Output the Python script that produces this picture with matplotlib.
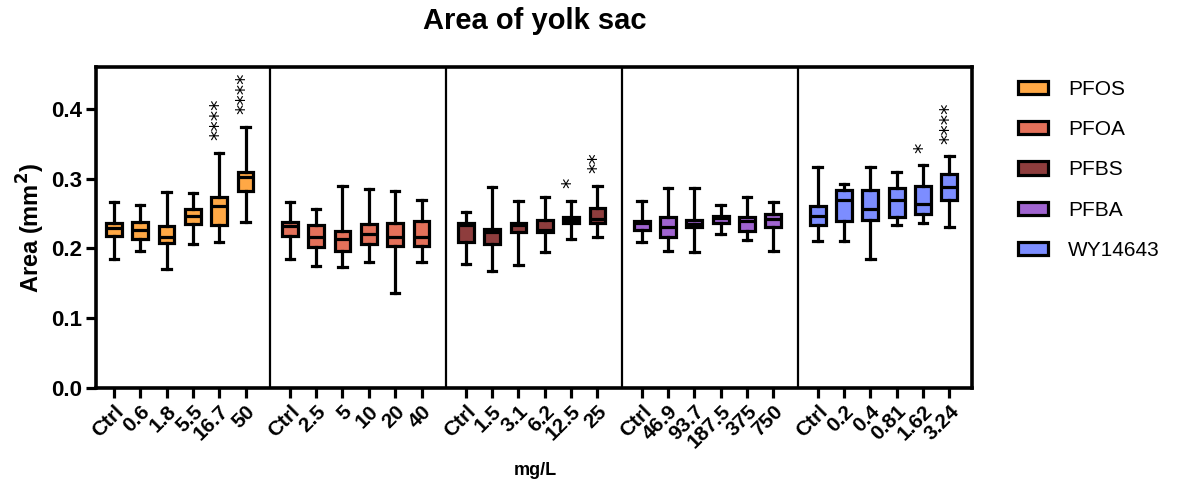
import matplotlib
matplotlib.use("Agg")
import matplotlib.pyplot as plt
from matplotlib.patches import Patch

plt.rcParams['font.family'] = ['Liberation Sans', 'DejaVu Sans']

# ---- data ----
compounds = ["PFOS", "PFOA", "PFBS", "PFBA", "WY14643"]
colors = ["#FFA845", "#E4715A", "#8E3D3D", "#A064D0", "#7C8DFF"]

doses_pfos = ["Ctrl", "0.6", "1.8", "5.5", "16.7", "50"]
doses_pfoa = ["Ctrl", "2.5", "5", "10", "20", "40"]
doses_pfbs = ["Ctrl", "1.5", "3.1", "6.2", "12.5", "25"]
doses_pfba = ["Ctrl", "46.9", "93.7", "187.5", "375", "750"]
doses_wy = ["Ctrl", "0.2", "0.4", "0.81", "1.62", "3.24"]

# each: whislo, q1, median, q3, whishi
pfos = [
    [0.185, 0.218, 0.229, 0.237, 0.266],
    [0.196, 0.214, 0.227, 0.238, 0.262],
    [0.171, 0.208, 0.216, 0.232, 0.281],
    [0.207, 0.235, 0.246, 0.256, 0.280],
    [0.209, 0.233, 0.261, 0.274, 0.337],
    [0.238, 0.282, 0.302, 0.310, 0.374],
]
pfoa = [
    [0.185, 0.218, 0.232, 0.238, 0.266],
    [0.175, 0.202, 0.216, 0.233, 0.257],
    [0.173, 0.196, 0.214, 0.225, 0.290],
    [0.181, 0.207, 0.221, 0.235, 0.285],
    [0.136, 0.204, 0.217, 0.237, 0.282],
    [0.181, 0.203, 0.217, 0.240, 0.269],
]
pfbs = [
    [0.177, 0.209, 0.233, 0.237, 0.252],
    [0.167, 0.207, 0.224, 0.228, 0.288],
    [0.176, 0.224, 0.233, 0.237, 0.268],
    [0.195, 0.223, 0.227, 0.241, 0.273],
    [0.214, 0.236, 0.241, 0.245, 0.268],
    [0.217, 0.236, 0.242, 0.258, 0.290],
]
pfba = [
    [0.209, 0.226, 0.236, 0.239, 0.268],
    [0.197, 0.216, 0.230, 0.245, 0.287],
    [0.195, 0.231, 0.235, 0.241, 0.286],
    [0.221, 0.237, 0.243, 0.247, 0.262],
    [0.212, 0.225, 0.240, 0.245, 0.274],
    [0.197, 0.231, 0.242, 0.250, 0.266],
]
wy = [
    [0.210, 0.233, 0.246, 0.261, 0.316],
    [0.211, 0.239, 0.270, 0.283, 0.293],
    [0.185, 0.241, 0.257, 0.283, 0.316],
    [0.234, 0.245, 0.269, 0.287, 0.309],
    [0.236, 0.250, 0.263, 0.290, 0.319],
    [0.231, 0.270, 0.288, 0.307, 0.332],
]
# significance marks per box
sig_pfos = ["", "", "", "", "****", "****"]
sig_pfoa = ["", "", "", "", "", ""]
sig_pfbs = ["", "", "", "", "*", "**"]
sig_pfba = ["", "", "", "", "", ""]
sig_wy = ["", "", "", "", "*", "****"]

groups = [pfos, pfoa, pfbs, pfba, wy]
doses = [doses_pfos, doses_pfoa, doses_pfbs, doses_pfba, doses_wy]
sigs = [sig_pfos, sig_pfoa, sig_pfbs, sig_pfba, sig_wy]

# ---- figure ----
fig = plt.figure(figsize=(11.82, 4.90), dpi=100)
ax = fig.add_axes([0.0812, 0.2082, 0.7411, 0.6551])

GAP = 6.68
lw = 2.3
positions, labels = [], []
for g, (grp, ds, sg) in enumerate(zip(groups, doses, sigs)):
    stats = []
    pos = []
    for i, (s, d) in enumerate(zip(grp, ds)):
        stats.append(dict(whislo=s[0], q1=s[1], med=s[2], q3=s[3], whishi=s[4], fliers=[]))
        pos.append(g * GAP + i)
    ax.bxp(stats, positions=pos, widths=0.6, capwidths=0.32, patch_artist=True,
           showfliers=False,
           boxprops=dict(facecolor=colors[g], edgecolor='black', linewidth=lw),
           medianprops=dict(color='black', linewidth=lw),
           whiskerprops=dict(color='black', linewidth=lw),
           capprops=dict(color='black', linewidth=lw))
    for p, s, m in zip(pos, grp, sg):
        if m:
            ax.text(p, s[4] + 0.018, m, rotation=90, ha='center', va='bottom',
                    fontsize=15, family='DejaVu Sans')
    positions += pos
    labels += ds

for g in range(1, 5):
    ax.axvline(g * GAP - 0.76, color='black', lw=1.6)

ax.set_xlim(-0.68, 4 * GAP + 5.86)
ax.set_ylim(0, 0.46)
ax.set_yticks([0.0, 0.1, 0.2, 0.3, 0.4])
ax.set_yticklabels(["0.0", "0.1", "0.2", "0.3", "0.4"], fontsize=16, fontweight='bold')
ax.set_xticks(positions)
ax.set_xticklabels(labels, rotation=45, ha='right', rotation_mode='anchor',
                   fontsize=15, fontweight='bold')
ax.tick_params(axis='both', direction='out', length=7, width=2.3, pad=3)
for sp in ax.spines.values():
    sp.set_linewidth(2.6)

ax.set_ylabel("Area (mm$^\\mathbf{2}$)", fontsize=17, fontweight='bold', labelpad=3)
fig.text(0.4526, 0.040, "mg/L", ha='center', va='center', fontsize=13, fontweight='bold')
fig.text(0.4526, 0.957, "Area of yolk sac", ha='center', va='center', fontsize=21, fontweight='bold')

handles = [Patch(facecolor=c, edgecolor='black', linewidth=2.3) for c in colors]
leg = fig.legend(handles, compounds, loc='upper left', bbox_to_anchor=(0.854, 0.854),
                 frameon=False, fontsize=15, handlelength=1.45, handleheight=0.6,
                 labelspacing=1.02, handletextpad=0.95, borderaxespad=0)

fig.savefig("out.png", dpi=100)
